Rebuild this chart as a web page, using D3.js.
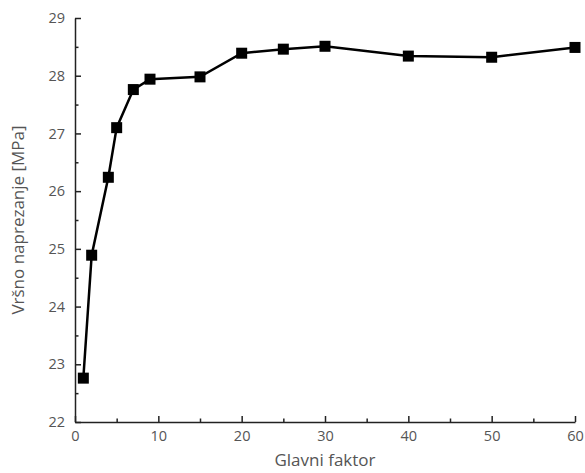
<!DOCTYPE html>
<html><head><meta charset="utf-8">
<script src="https://cdn.jsdelivr.net/npm/d3@7"></script>
<style>body{margin:0;background:#fff}svg{display:block}</style>
</head><body>
<script>
const xValues = [1, 2, 4, 5, 7, 9, 15, 20, 25, 30, 40, 50, 60];
const yValues = [22.76, 24.89, 26.24, 27.1, 27.76, 27.94, 27.98, 28.39, 28.46, 28.51, 28.34, 28.32, 28.49];
const xTicks = [0, 10, 20, 30, 40, 50, 60];
const yTicks = [22, 23, 24, 25, 26, 27, 28, 29];
const xLabel = "Glavni faktor";
const yLabel = "Vršno naprezanje [MPa]";

const W = 585, H = 473;
const m = {left: 75, right: 10, top: 18, bottom: 51};
const svg = d3.select("body").append("svg").attr("width", W).attr("height", H);
const x = d3.scaleLinear().domain([0, 60]).range([m.left, W - m.right]);
const y = d3.scaleLinear().domain([22, 29]).range([H - m.bottom, m.top]);
const font = "'Open Sans', Roboto, sans-serif";
const tickCol = "#555";

// x axis
const gx = svg.append("g").attr("transform", `translate(0,${y(22)})`);
gx.call(d3.axisBottom(x).tickValues(d3.range(0, 61, 5)).tickSize(-5).tickSizeOuter(0).tickFormat(d => xTicks.includes(d) ? d : ""));
gx.selectAll(".tick line").attr("stroke", "#222").attr("stroke-width", 1.5).attr("y2", d => xTicks.includes(d) ? -6 : -3.5);
gx.select(".domain").attr("stroke", "#222").attr("stroke-width", 1.5);
gx.selectAll(".tick text").attr("y", 9).attr("font-family", font).attr("font-size", 14.5).attr("fill", tickCol);

// y axis
const gy = svg.append("g").attr("transform", `translate(${x(0)},0)`);
gy.call(d3.axisLeft(y).tickValues(d3.range(22, 29.01, 0.5)).tickSize(-5).tickSizeOuter(0).tickFormat(d => yTicks.includes(d) ? d : ""));
gy.selectAll(".tick line").attr("stroke", "#222").attr("stroke-width", 1.5).attr("x2", d => Number.isInteger(d) ? 6 : 3.5);
gy.select(".domain").attr("stroke", "#222").attr("stroke-width", 1.5);
gy.selectAll(".tick text").attr("x", -10).attr("font-family", font).attr("font-size", 14.5).attr("fill", tickCol);

// line
const data = xValues.map((v, i) => [v, yValues[i]]);
svg.append("path").datum(data)
  .attr("fill", "none").attr("stroke", "#000").attr("stroke-width", 2.5)
  .attr("d", d3.line().x(d => x(d[0])).y(d => y(d[1])));
const s = 11;
svg.selectAll("rect.pt").data(data).enter().append("rect").attr("class", "pt")
  .attr("x", d => x(d[0]) - s / 2).attr("y", d => y(d[1]) - s / 2)
  .attr("width", s).attr("height", s).attr("fill", "#000");

// labels
svg.append("text").attr("x", (x(0) + x(60)) / 2).attr("y", 466).attr("text-anchor", "middle")
  .attr("font-family", font).attr("font-size", 17).attr("fill", tickCol).text(xLabel);
svg.append("text").attr("transform", `translate(24,${(y(22) + y(29)) / 2}) rotate(-90)`).attr("text-anchor", "middle")
  .attr("font-family", font).attr("font-size", 17).attr("fill", tickCol).text(yLabel);
</script>
</body></html>
